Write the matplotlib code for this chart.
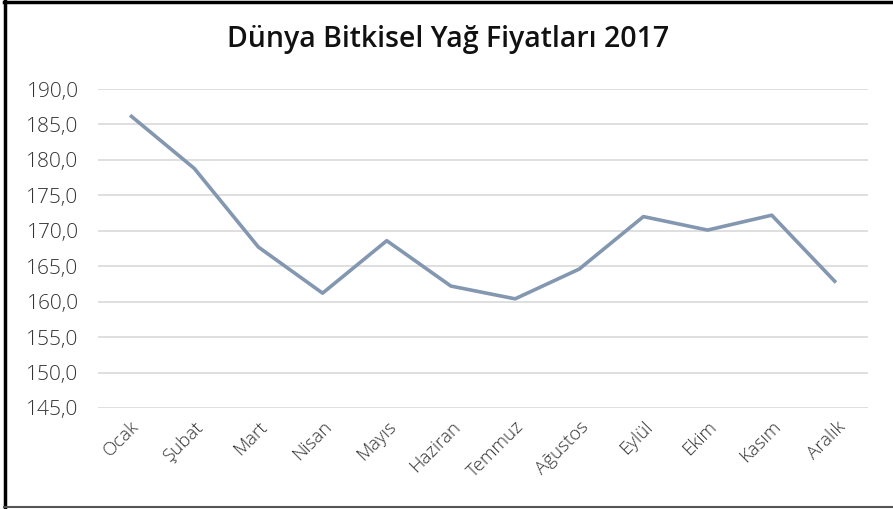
import matplotlib
matplotlib.use("Agg")
import matplotlib.pyplot as plt
from matplotlib.lines import Line2D

months = ["Ocak", "Şubat", "Mart", "Nisan", "Mayıs", "Haziran", "Temmuz",
          "Ağustos", "Eylül", "Ekim", "Kasım", "Aralık"]
prices = [186.3, 178.8, 167.7, 161.2, 168.6, 162.2, 160.4, 164.6, 172.0, 170.1, 172.2, 162.7]
yticks = [145, 150, 155, 160, 165, 170, 175, 180, 185, 190]
title = "Dünya Bitkisel Yağ Fiyatları 2017"

W, H = 893, 509
fig = plt.figure(figsize=(W / 100, H / 100), dpi=100)
fig.patch.set_facecolor("white")
ax = fig.add_axes([98 / W, 1 - 408 / H, (868 - 98) / W, (408 - 89) / H])

x = list(range(len(months)))
ax.plot(x, prices, color="#8497B0", linewidth=2.6, solid_capstyle="butt", zorder=3)
ax.set_xlim(-0.5, len(months) - 0.5)
ax.set_ylim(145, 190)
ax.set_yticks(yticks)
ax.set_yticklabels([f"{v:.1f}".replace(".", ",") for v in yticks],
                   fontsize=15, color="#333333", family="Open Sans", fontweight="light")
ax.set_xticks(x)
ax.set_xticklabels(months, rotation=45, ha="right", rotation_mode="anchor",
                   fontsize=13.5, color="#333333", family="Open Sans", fontweight="light")
ax.tick_params(axis="both", length=0)
ax.tick_params(axis="y", pad=14)
ax.tick_params(axis="x", pad=7)
ax.grid(axis="y", color="#D9D9D9", linewidth=1.2)
ax.set_axisbelow(True)
for s in ax.spines.values():
    s.set_visible(False)

fig.text(448 / W, 1 - 40 / H, title, ha="center", va="center",
         fontsize=20.5, fontweight="semibold", family="Open Sans", color="#111111")

# figure frame
fig.add_artist(Line2D([4 / W, 1], [1 - 2 / H, 1 - 2 / H], transform=fig.transFigure,
                      color="black", linewidth=2.5))
fig.add_artist(Line2D([5 / W, 5 / W], [0, 1 - 1 / H], transform=fig.transFigure,
                      color="black", linewidth=2.5))
fig.add_artist(Line2D([4 / W, 1], [1 - 507 / H, 1 - 507 / H], transform=fig.transFigure,
                      color="#555555", linewidth=1.5))

fig.savefig("out.png", dpi=100)
